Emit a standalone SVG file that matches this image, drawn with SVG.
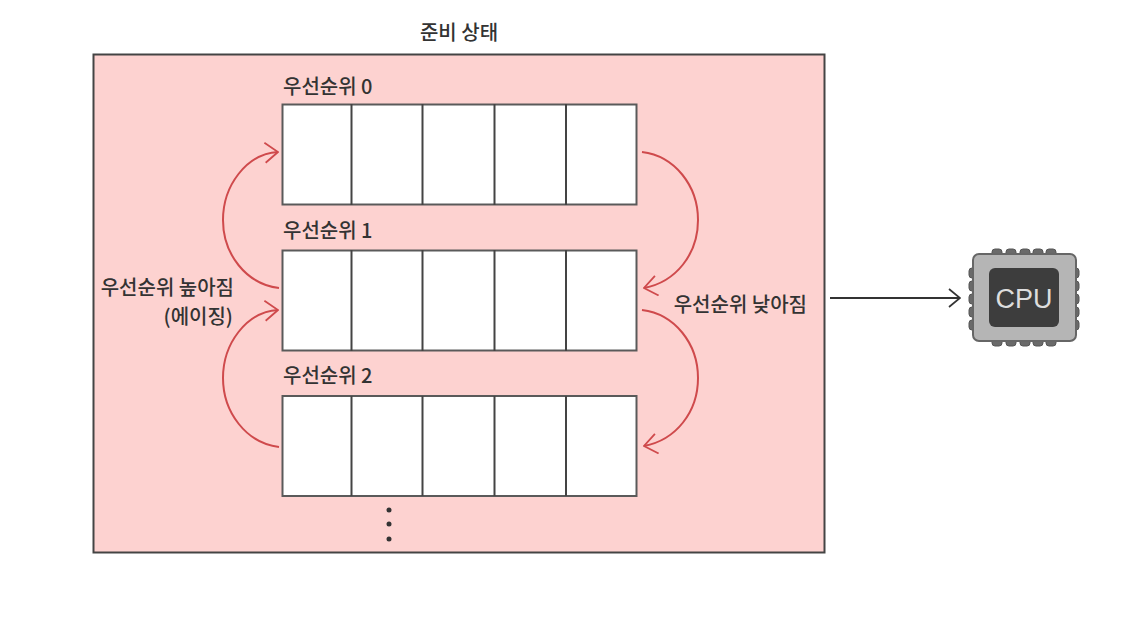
<svg xmlns="http://www.w3.org/2000/svg" width="1144" height="618" viewBox="0 0 1144 618">
<defs>
<marker id="ar" viewBox="0 0 15 22" refX="14" refY="11" markerWidth="15" markerHeight="22" markerUnits="userSpaceOnUse" orient="auto"><path d="M1 1 L14 11 L1 21" fill="none" stroke="#cf4a4c" stroke-width="1.8"/></marker>
<marker id="ak" viewBox="0 0 14 20" refX="13" refY="10" markerWidth="14" markerHeight="20" markerUnits="userSpaceOnUse" orient="auto"><path d="M2 1 L13 10 L2 19" fill="none" stroke="#333" stroke-width="1.7"/></marker>
</defs>
<style>
text{font-family:"Noto Sans CJK KR","Noto Sans",sans-serif;font-size:20px;fill:#333;font-weight:500}
.q{fill:#fff;stroke:#5a5a5a;stroke-width:2}
.d{stroke:#444;stroke-width:2}
.c{fill:none;stroke:#cf4a4c;stroke-width:2}
.pin{fill:#6a6a6a;stroke:#555;stroke-width:1}
</style>
<rect width="1144" height="618" fill="#fff"/>
<g id="ready"><rect x="93.500" y="54.500" width="731" height="498" fill="#fdd2d0" stroke="#444" stroke-width="2"/>
<text x="459" y="40" text-anchor="middle">준비 상태</text></g>
<g id="queue0"><rect class="q" x="282.500" y="104.500" width="354" height="100"/>
<path class="d" d="M351.500 104V205M422.500 104V205M494.500 104V205M566 104V205"/>
<text x="283" y="94">우선순위 0</text></g>
<g id="queue1"><rect class="q" x="282.500" y="250.500" width="354" height="100"/>
<path class="d" d="M351.500 250V351M422.500 250V351M494.500 250V351M566 250V351"/>
<text x="283" y="238">우선순위 1</text></g>
<g id="queue2"><rect class="q" x="282.500" y="396" width="354" height="100"/>
<path class="d" d="M351.500 396V496M422.500 396V496M494.500 396V496M566 396V496"/>
<text x="283" y="383">우선순위 2</text></g>
<g id="dots" fill="#333"><circle cx="389" cy="510" r="2.500"/><circle cx="389" cy="524" r="2.500"/><circle cx="389" cy="539" r="2.500"/></g>
<g id="labels"><text x="234" y="295" text-anchor="end">우선순위 높아짐</text>
<text x="233" y="324" text-anchor="end">(에이징)</text>
<text x="807" y="312" text-anchor="end">우선순위 낮아짐</text></g>
<g id="connectors">
<path class="c" marker-end="url(#ar)" d="M279 288 C246 284 223 254 223 220 C223 186 246 154 278 152"/>
<path class="c" marker-end="url(#ar)" d="M279 447 C246 443 223 412 223 378 C223 344 246 312 278 310"/>
<path class="c" marker-end="url(#ar)" d="M642 152 C675 156 698 186 698 220 C698 254 676 282 644 288"/>
<path class="c" marker-end="url(#ar)" d="M642 310 C675 314 698 344 698 378 C698 412 676 440 644 446"/>
<path fill="none" stroke="#333" stroke-width="2" marker-end="url(#ak)" d="M830 298H960"/>
</g>
<g id="cpu">
<g class="pin"><rect x="992" y="249" width="10" height="7" rx="3"/><rect x="1006" y="249" width="10" height="7" rx="3"/><rect x="1020" y="249" width="10" height="7" rx="3"/><rect x="1033" y="249" width="10" height="7" rx="3"/><rect x="1046" y="249" width="10" height="7" rx="3"/>
<rect x="992" y="339" width="10" height="7" rx="3"/><rect x="1006" y="339" width="10" height="7" rx="3"/><rect x="1020" y="339" width="10" height="7" rx="3"/><rect x="1033" y="339" width="10" height="7" rx="3"/><rect x="1046" y="339" width="10" height="7" rx="3"/>
<rect x="969" y="268" width="7" height="10" rx="3"/><rect x="969" y="281" width="7" height="10" rx="3"/><rect x="969" y="294" width="7" height="10" rx="3"/><rect x="969" y="307" width="7" height="10" rx="3"/><rect x="969" y="320" width="7" height="10" rx="3"/>
<rect x="1072" y="268" width="7" height="10" rx="3"/><rect x="1072" y="281" width="7" height="10" rx="3"/><rect x="1072" y="294" width="7" height="10" rx="3"/><rect x="1072" y="307" width="7" height="10" rx="3"/><rect x="1072" y="320" width="7" height="10" rx="3"/></g>
<rect x="973" y="254" width="103" height="87" rx="6" fill="#b5b5b5" stroke="#666" stroke-width="2"/>
<rect x="989" y="268" width="70" height="59" rx="6" fill="#3d3d3d"/>
<text x="1024" y="308" text-anchor="middle" style="font-family:'Liberation Sans',sans-serif;font-size:27px;fill:#ddd;font-weight:400">CPU</text></g>
</svg>
